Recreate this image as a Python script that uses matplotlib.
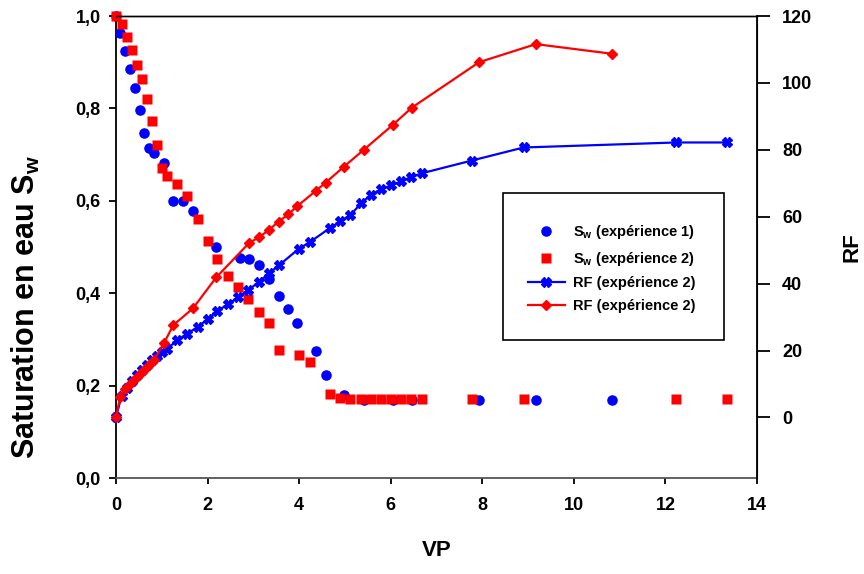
import matplotlib
matplotlib.use('Agg')
import matplotlib.pyplot as plt
from matplotlib.lines import Line2D
from matplotlib.patches import Rectangle

plt.rcParams['font.family'] = 'Liberation Sans'
plt.rcParams['font.weight'] = 'bold'
plt.rcParams['mathtext.fontset'] = 'custom'
plt.rcParams['mathtext.rm'] = 'Liberation Sans:bold'
plt.rcParams['mathtext.bf'] = 'Liberation Sans:bold'
plt.rcParams['mathtext.it'] = 'Liberation Sans:bold'
plt.rcParams['mathtext.default'] = 'bf'

# Sw, expérience 1 (cercles bleus)
vp_exp1 = [0, 0.09, 0.20, 0.31, 0.42, 0.52, 0.62, 0.72, 0.83, 1.05, 1.25, 1.46, 1.68,
           2.19, 2.71, 2.91, 3.13, 3.33, 3.55, 3.76, 3.96, 4.37, 4.58, 4.98, 5.41,
           6.04, 6.46, 7.93, 9.17, 10.84]
sw_exp1 = [1.0, 0.964, 0.924, 0.885, 0.845, 0.797, 0.747, 0.715, 0.703, 0.681, 0.600,
           0.600, 0.578, 0.501, 0.477, 0.474, 0.462, 0.431, 0.393, 0.365, 0.335, 0.275,
           0.222, 0.179, 0.169, 0.169, 0.169, 0.169, 0.169, 0.169]

# Sw et RF, expérience 2 (carrés rouges, croix bleues)
vp_exp2 = [0, 0.12, 0.23, 0.34, 0.46, 0.56, 0.68, 0.79, 0.90, 1.01, 1.12, 1.34, 1.56,
           1.79, 2.0, 2.21, 2.45, 2.67, 2.89, 3.12, 3.34, 3.56, 3.99, 4.23, 4.68, 4.90,
           5.12, 5.35, 5.57, 5.79, 6.01, 6.23, 6.45, 6.68, 7.77, 8.90, 12.23, 13.35]
sw_exp2 = [1.0, 0.982, 0.955, 0.926, 0.894, 0.863, 0.820, 0.773, 0.720, 0.671, 0.654,
           0.636, 0.610, 0.561, 0.514, 0.473, 0.438, 0.414, 0.387, 0.359, 0.336, 0.277,
           0.266, 0.251, 0.181, 0.173, 0.172, 0.172, 0.172, 0.172, 0.172, 0.172, 0.172,
           0.172, 0.172, 0.172, 0.172, 0.172]
rf_exp2 = [0, 6.5, 8.9, 10.8, 12.7, 14.2, 15.7, 17.2, 18.4, 19.6, 20.6, 23.1, 25.1,
           27.1, 29.4, 31.8, 33.9, 35.9, 38.1, 40.5, 43.1, 45.5, 50.4, 52.4, 56.7, 58.6,
           60.5, 64.0, 66.6, 68.2, 69.4, 70.6, 71.9, 73.0, 76.8, 80.7, 82.2, 82.2]

# RF rouge (losanges)
vp_rf_red = [0, 0.09, 0.20, 0.31, 0.42, 0.52, 0.62, 0.72, 0.83, 1.05, 1.25, 1.68, 2.19,
             2.91, 3.13, 3.33, 3.55, 3.76, 3.96, 4.37, 4.58, 4.98, 5.41, 6.04, 6.46,
             7.93, 9.17, 10.84]
rf_red = [0, 6.2, 8.5, 10.0, 11.6, 13.0, 14.3, 15.6, 17.1, 22.3, 27.6, 32.6, 41.9,
          52.2, 53.9, 56.0, 58.5, 60.7, 63.2, 67.8, 70.2, 75.0, 80.0, 87.4, 92.6,
          106.2, 111.6, 108.7]

fig = plt.figure(figsize=(8.64, 5.74), dpi=100)
ax = fig.add_axes([0.1343, 0.1672, 0.7419, 0.8049])
ax2 = ax.twinx()

ax.plot(vp_exp1, sw_exp1, 'o', color='#0000ff', markersize=7.6, mec='none', clip_on=False, zorder=3)
ax.plot(vp_exp2, sw_exp2, 's', color='#ff0000', markersize=6.7, mec='none', clip_on=False, zorder=4)
ax2.plot(vp_exp2, rf_exp2, '-X', color='#0000ff', lw=1.6, markersize=7, mec='#0000ff', clip_on=False)
ax2.plot(vp_rf_red, rf_red, '-D', color='#ff0000', lw=1.6, markersize=5, mec='#ff0000', clip_on=False)

ax.set_xlim(0, 14)
ax.set_ylim(0, 1)
ax2.set_ylim(-18.1, 120)
ax.set_xticks(range(0, 15, 2))
ax.set_yticks([0, 0.2, 0.4, 0.6, 0.8, 1.0])
ax.set_yticklabels(['0,0', '0,2', '0,4', '0,6', '0,8', '1,0'])
ax2.set_yticks(range(0, 121, 20))

ax.tick_params(axis='y', direction='out', length=5, width=1.3, pad=6, labelsize=13)
ax.tick_params(axis='x', direction='out', length=4.5, width=1.3, pad=9, labelsize=13)
ax2.tick_params(axis='y', direction='out', length=9, width=1.3, pad=9, labelsize=13)

ax.spines['left'].set_linewidth(1.3)
ax.spines['bottom'].set_linewidth(1.3)
ax.spines['bottom'].set_color('#555555')
ax.spines['top'].set_linewidth(1.0)
ax2.spines['right'].set_linewidth(1.3)
ax2.spines['top'].set_linewidth(1.0)
ax2.spines['left'].set_visible(False)
ax2.spines['bottom'].set_visible(False)

ax.set_xlabel('VP', fontsize=16, fontweight='bold')
ax.xaxis.set_label_coords(0.5, -0.134)
ax.set_ylabel('Saturation en eau S$_w$', fontsize=22, fontweight='bold')
ax.yaxis.set_label_coords(-0.116, 0.37)
ax2.set_ylabel('RF', fontsize=16, fontweight='bold')
ax2.yaxis.set_label_coords(1.131, 0.5)

handles = [
    Line2D([], [], ls='none', marker='o', color='#0000ff', markersize=7.6, mec='none'),
    Line2D([], [], ls='none', marker='s', color='#ff0000', markersize=6.7, mec='none'),
    Line2D([], [], ls='-', marker='X', color='#0000ff', lw=1.6, markersize=7),
    Line2D([], [], ls='-', marker='D', color='#ff0000', lw=1.6, markersize=5),
]
labels = ['S$_w$ (expérience 1)', 'S$_w$ (expérience 2)',
          'RF (expérience 2)', 'RF (expérience 2)']
box = Rectangle((503 / 864, 1 - 340 / 574), 221 / 864, 147 / 574,
                transform=fig.transFigure, facecolor='white',
                edgecolor='black', lw=1.2, zorder=5, clip_on=False)
ax2.add_patch(box)
leg = ax2.legend(handles, labels, loc='center', bbox_to_anchor=(612 / 864, 1 - 268 / 574),
                 bbox_transform=fig.transFigure, frameon=False, fontsize=10.5,
                 handlelength=2.5, handletextpad=0.6, labelspacing=0.6)
leg.set_zorder(6)

fig.savefig('out.png', dpi=100)
